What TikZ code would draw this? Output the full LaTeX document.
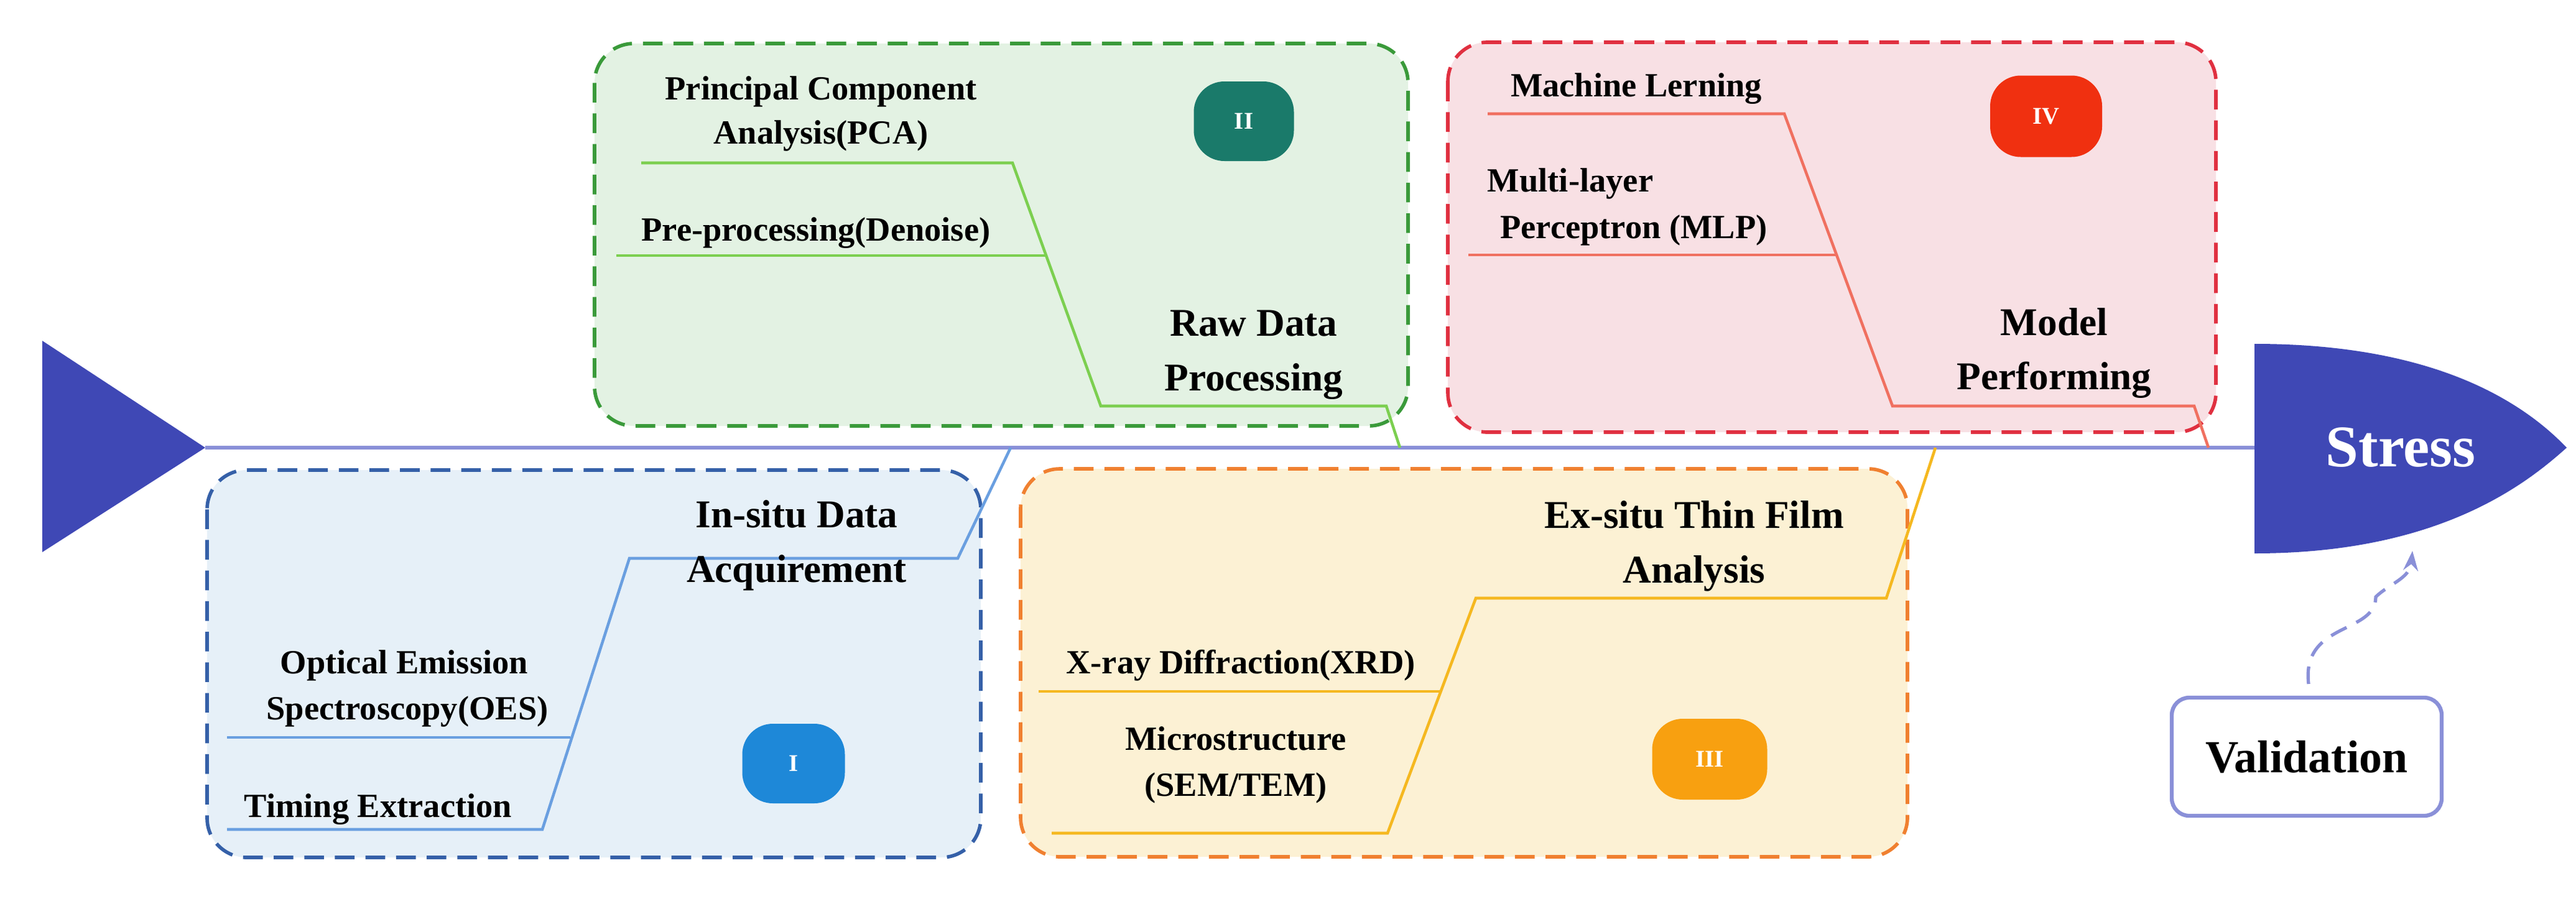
\documentclass[tikz,border=0pt]{standalone}
\usepackage{fontspec}
\setmainfont{Liberation Serif}
\usetikzlibrary{arrows.meta}
\definecolor{spine}{HTML}{8A90D8}
\definecolor{navy}{HTML}{3F48B5}
\definecolor{gfill}{HTML}{E3F2E3}\definecolor{gline}{HTML}{3A9A3A}\definecolor{gbr}{HTML}{7CCF50}
\definecolor{bfill}{HTML}{E6F0F8}\definecolor{bline}{HTML}{3560A8}\definecolor{bbr}{HTML}{6A9FE0}
\definecolor{ofill}{HTML}{FCF1D4}\definecolor{oline}{HTML}{F08030}\definecolor{obr}{HTML}{F5B820}
\definecolor{rfill}{HTML}{F8E0E4}\definecolor{rline}{HTML}{E03040}\definecolor{rbr}{HTML}{F07060}
\definecolor{cII}{HTML}{1A7A6A}\definecolor{cI}{HTML}{1E88D8}\definecolor{cIII}{HTML}{F8A010}\definecolor{cIV}{HTML}{F03010}
\tikzset{
 panel/.style={draw=#1, dashed, dash pattern=on 9pt off 5pt, line width=1.6pt, rounded corners=18pt},
 lab/.style={font=\fontsize{15.5}{18}\selectfont\bfseries, inner sep=0pt, align=center},
 head/.style={font=\fontsize{18}{21}\selectfont\bfseries, inner sep=0pt, align=center},
 badge/.style={fill=#1, rounded corners=14pt, text=white, font=\fontsize{11}{13}\selectfont\bfseries, inner sep=0pt},
 br/.style={draw=#1, line width=1.3pt},
}
\begin{document}
\begin{tikzpicture}
\useasboundingbox (0,0) rectangle (41.42,-14.69);
% panels
\draw[panel=gline, fill=gfill] (9.56,-0.70) rectangle (22.64,-6.85);
\draw[panel=rline, fill=rfill] (23.28,-0.68) rectangle (35.63,-6.95);
\draw[panel=bline, fill=bfill] (3.33,-7.56) rectangle (15.77,-13.79);
\draw[panel=oline, fill=ofill] (16.41,-7.54) rectangle (30.67,-13.78);
% spine
\coordinate (tail) at (3.3,-7.2);
\coordinate (head) at (36.25,-7.2);
\fill[navy] (0.68,-5.48) -- (tail) -- (0.68,-8.88) -- cycle;
\draw[spine, line width=1.6pt] (tail) -- (head);
\fill[navy] (36.25,-5.53) -- (36.25,-8.90) .. controls (39.2,-8.9) and (40.6,-7.8) .. (41.27,-7.20) .. controls (40.6,-6.5) and (39.2,-5.53) .. (36.25,-5.53) -- cycle;
\node[text=white, font=\fontsize{27}{30}\selectfont\bfseries] (stress) at (38.6,-7.2) {Stress};
% green branch
\draw[br=gbr] (10.31,-2.62) -- (16.28,-2.62) -- (17.70,-6.53) -- (22.29,-6.53) -- (22.51,-7.2);
\draw[br=gbr] (9.91,-4.11) -- (16.82,-4.11);
\node[lab] (pca) at (13.2,-1.83) {Principal Component\\[2pt]Analysis(PCA)};
\node[lab] (pre) at (13.12,-3.75) {Pre-processing(Denoise)};
\node[head] (raw) at (20.16,-5.71) {Raw Data\\[4pt]Processing};
\node[badge=cII, minimum width=1.61cm, minimum height=1.28cm] (b2) at (20.0,-1.95) {II};
% red branch
\draw[br=rbr] (23.92,-1.83) -- (28.69,-1.83) -- (30.43,-6.53) -- (35.28,-6.53) -- (35.51,-7.2);
\draw[br=rbr] (23.61,-4.10) -- (29.53,-4.10);
\node[lab] (ml) at (26.31,-1.43) {Machine Lerning};
\node[lab] (mlp1) at (25.25,-2.95) {Multi-layer};
\node[lab] (mlp2) at (26.27,-3.70) {Perceptron (MLP)};
\node[head] (mp) at (33.03,-5.68) {Model\\[4pt]Performing};
\node[badge=cIV, minimum width=1.80cm, minimum height=1.31cm] (b4) at (32.9,-1.87) {IV};
% blue branch
\draw[br=bbr] (16.25,-7.2) -- (15.40,-8.98) -- (10.12,-8.98) -- (8.72,-13.34) -- (3.65,-13.34);
\draw[br=bbr] (3.65,-11.86) -- (9.17,-11.86);
\node[head] (insitu) at (12.81,-8.77) {In-situ Data\\[4pt]Acquirement};
\node[lab] (oes) at (6.5,-10.70) {Optical Emission};
\node[lab] (oes2) at (6.55,-11.44) {Spectroscopy(OES)};
\node[lab] (tim) at (6.08,-13.02) {Timing Extraction};
\node[badge=cI, minimum width=1.65cm, minimum height=1.28cm] (b1) at (12.76,-12.28) {I};
% orange branch
\draw[br=obr] (31.12,-7.2) -- (30.33,-9.62) -- (23.73,-9.62) -- (22.31,-13.40) -- (16.91,-13.40);
\draw[br=obr] (16.70,-11.12) -- (23.17,-11.12);
\node[head] (exsitu) at (27.24,-8.78) {Ex-situ Thin Film\\[4pt]Analysis};
\node[lab] (xrd) at (19.95,-10.70) {X-ray Diffraction(XRD)};
\node[lab] (micro) at (19.87,-12.30) {Microstructure\\[3pt](SEM/TEM)};
\node[badge=cIII, minimum width=1.85cm, minimum height=1.30cm] (b3) at (27.49,-12.21) {III};
% validation
\node[draw=spine, line width=1.8pt, rounded corners=8pt, minimum width=4.34cm, minimum height=1.90cm, font=\fontsize{21}{24}\selectfont\bfseries] (val) at (37.09,-12.17) {Validation};
\draw[spine, line width=1.5pt, dashed, dash pattern=on 8pt off 5pt, -{Stealth[length=9pt]}] (37.12,-11.0) .. controls (37.0,-10.0) and (38.2,-10.2) .. (38.2,-9.6) .. controls (38.4,-9.4) and (38.75,-9.3) .. (38.79,-8.86);
\end{tikzpicture}
\end{document}
